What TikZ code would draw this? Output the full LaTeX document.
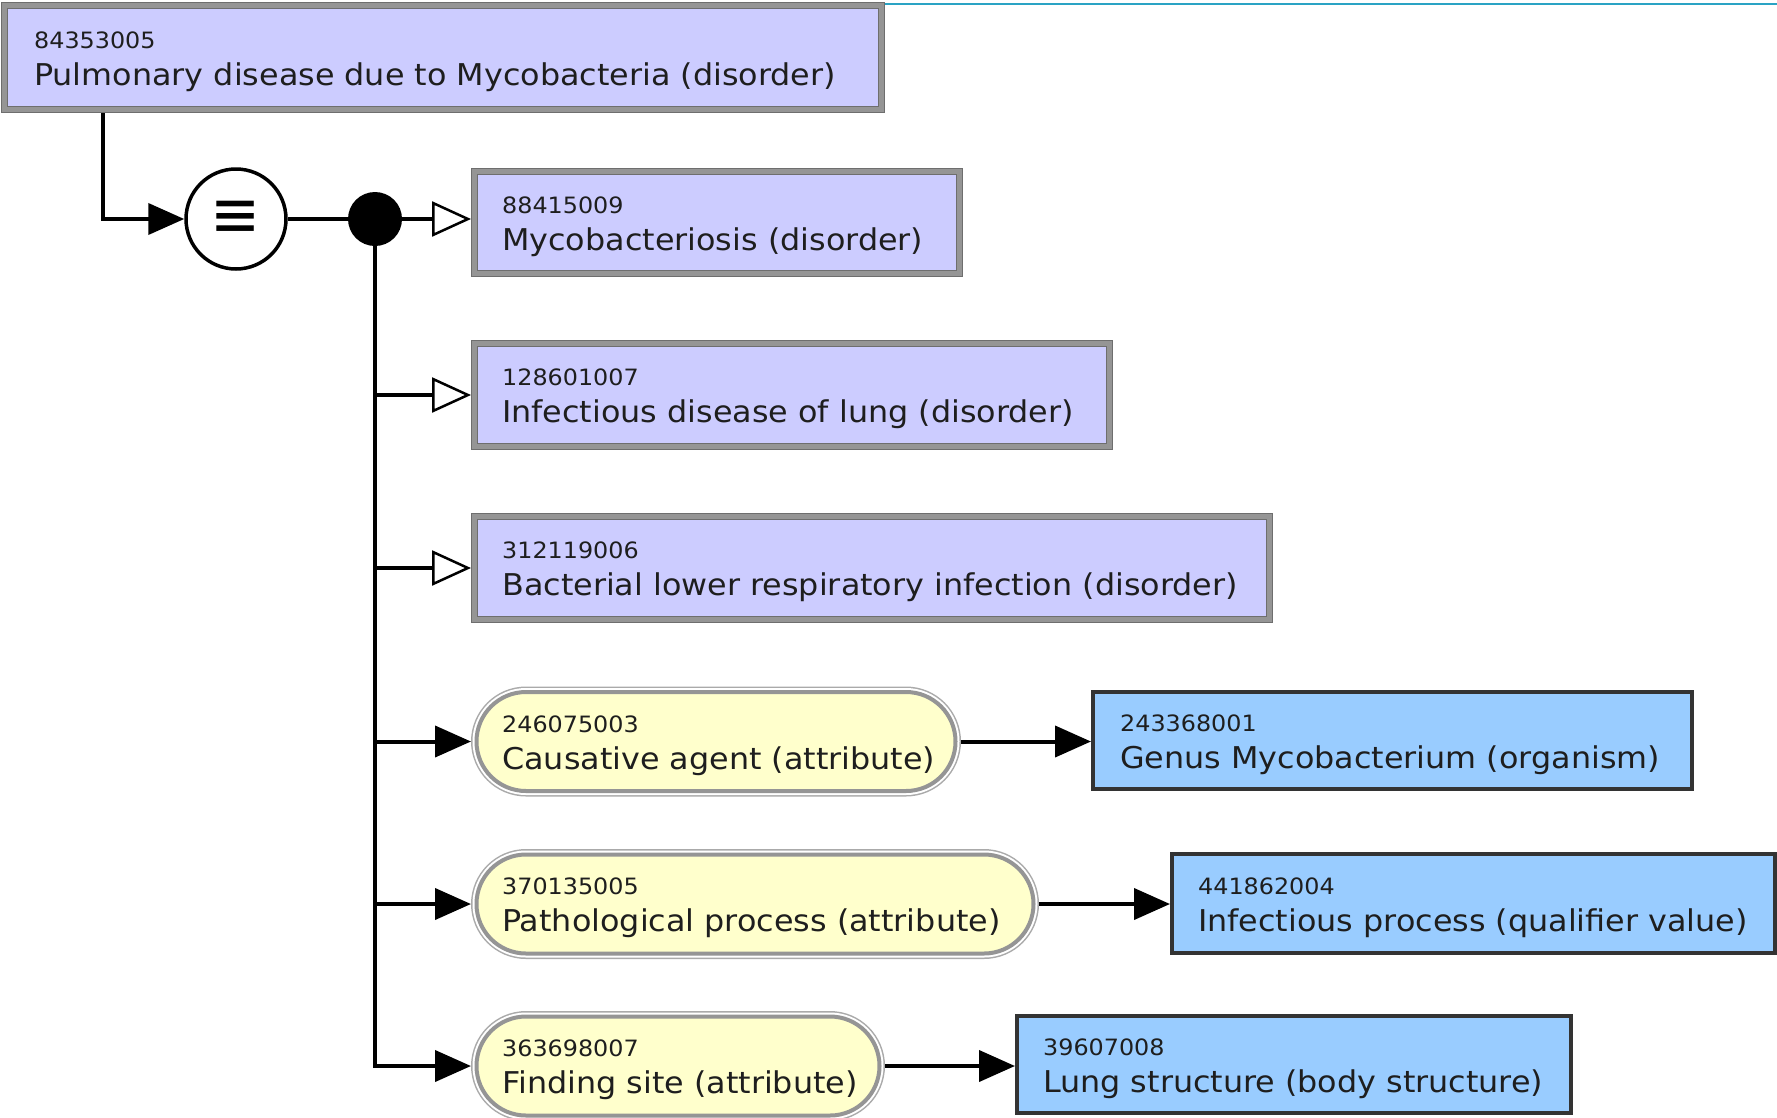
\documentclass[tikz,border=0pt]{standalone}
\usepackage{fontspec}
\newfontfamily\dv{DejaVu Sans}[FakeStretch=1.06]
\newfontfamily\dvsym{DejaVu Sans}
\usetikzlibrary{arrows.meta,calc}
\definecolor{lav}{HTML}{CCCCFF}
\definecolor{band}{HTML}{959595}
\definecolor{bandedge}{HTML}{6E6E6E}
\definecolor{yel}{HTML}{FFFFCC}
\definecolor{bluefill}{HTML}{99CCFF}
\definecolor{blueedge}{HTML}{333333}
\definecolor{txt}{HTML}{1E1E1E}
\definecolor{tealline}{HTML}{2AA3C4}
\tikzset{
  lavbox/.style={rectangle, fill=lav, draw=bandedge, double=band, double distance=5pt, line width=1pt, outer sep=3.5pt, inner sep=0pt},
  pill/.style={rectangle, rounded corners=49.5pt, fill=yel, draw=band, line width=4pt,
    preaction={draw=band!80, line width=11pt}, preaction={draw=white, line width=8pt},
    outer sep=5.5pt, inner sep=0pt, minimum height=99pt},
  bluebox/.style={rectangle, fill=bluefill, draw=blueedge, line width=4pt, outer sep=2pt, inner sep=0pt},
  idtxt/.style={anchor=base west, inner sep=0pt, font=\dv\fontsize{22.5}{27}\selectfont, text=txt},
  maintxt/.style={anchor=base west, inner sep=0pt, font=\dv\fontsize{30}{36}\selectfont, text=txt},
  conn/.style={draw=black, line width=4pt},
  fillarr/.style={conn, -{Triangle[length=36pt, width=31pt]}},
  openarr/.style={conn, -{Triangle[fill=white, length=39pt, width=35pt, line width=2.5pt]}},
}
\begin{document}
\begin{tikzpicture}[x=1pt,y=-1pt]
\useasboundingbox (0,0) rectangle (1777,1117);
\fill[white] (0,0) rectangle (1777,1117);
\draw[tealline, line width=2pt] (885,3.7) -- (1777,3.7);

% boxes
\node[lavbox, minimum width=877pt, minimum height=104pt] (top) at (443,57.5) {};
\node[lavbox, minimum width=485pt, minimum height=102pt] (b1) at (717,222.5) {};
\node[lavbox, minimum width=635pt, minimum height=103pt] (b2) at (792,395) {};
\node[lavbox, minimum width=795pt, minimum height=103pt] (b3) at (872,568) {};
\node[pill, minimum width=479pt] (p1) at (716,741.5) {};
\node[pill, minimum width=557pt] (p2) at (755,904) {};
\node[pill, minimum width=403pt] (p3) at (678,1066) {};
\node[bluebox, minimum width=599pt, minimum height=97pt] (v1) at (1392.5,740.5) {};
\node[bluebox, minimum width=603pt, minimum height=99pt] (v2) at (1473.5,903.5) {};
\node[bluebox, minimum width=554pt, minimum height=97pt] (v3) at (1294,1064.5) {};

% texts
\node[idtxt] (topid) at (34,48) {84353005};
\node[maintxt] (topt) at (34,85) {Pulmonary disease due to Mycobacteria (disorder)};
\node[idtxt] (b1id) at (502,213) {88415009};
\node[maintxt] (b1t) at (502,250) {Mycobacteriosis (disorder)};
\node[idtxt] (b2id) at (502,385.5) {128601007};
\node[maintxt] (b2t) at (502,422.5) {Infectious disease of lung (disorder)};
\node[idtxt] (b3id) at (502,558.5) {312119006};
\node[maintxt] (b3t) at (502,595.5) {Bacterial lower respiratory infection (disorder)};
\node[idtxt] (p1id) at (502,732) {246075003};
\node[maintxt] (p1t) at (502,769) {Causative agent (attribute)};
\node[idtxt] (p2id) at (502,894.5) {370135005};
\node[maintxt] (p2t) at (502,931.5) {Pathological process (attribute)};
\node[idtxt] (p3id) at (502,1056.5) {363698007};
\node[maintxt] (p3t) at (502,1093.5) {Finding site (attribute)};
\node[idtxt] (v1id) at (1120,731) {243368001};
\node[maintxt] (v1t) at (1120,768) {Genus Mycobacterium (organism)};
\node[idtxt] (v2id) at (1198,894) {441862004};
\node[maintxt] (v2t) at (1198,931) {Infectious process (qualifier value)};
\node[idtxt] (v3id) at (1043,1055) {39607008};
\node[maintxt] (v3t) at (1043,1092) {Lung structure (body structure)};

% equivalence and dot
\node[circle, draw=black, line width=3.5pt, fill=white, minimum size=100pt, inner sep=0pt,
      font=\dvsym\fontsize{52}{52}\selectfont] (eq) at (236,219) {\scalebox{1.15}[1.3]{≡}};
\node[circle, fill=black, minimum size=54pt, inner sep=0pt] (dot) at (375,219) {};

% connectors
\draw[fillarr] ([xshift=102pt]top.south west) |- (eq.west);
\draw[conn] (eq.east) -- (dot.center);
\draw[openarr] (dot.center) -- (dot -| b1.west);
\draw[conn] (dot.center) -- (dot |- p3.west);
\draw[openarr] (dot |- b2.west) -- (b2.west);
\draw[openarr] (dot |- b3.west) -- (b3.west);
\draw[fillarr] (dot |- p1.west) -- (p1.west);
\draw[fillarr] (dot |- p2.west) -- (p2.west);
\draw[fillarr] (dot.center) |- (p3.west);
\draw[fillarr] (p1.east) -- (p1.east -| v1.west);
\draw[fillarr] (p2.east) -- (p2.east -| v2.west);
\draw[fillarr] (p3.east) -- (p3.east -| v3.west);
\end{tikzpicture}
\end{document}
